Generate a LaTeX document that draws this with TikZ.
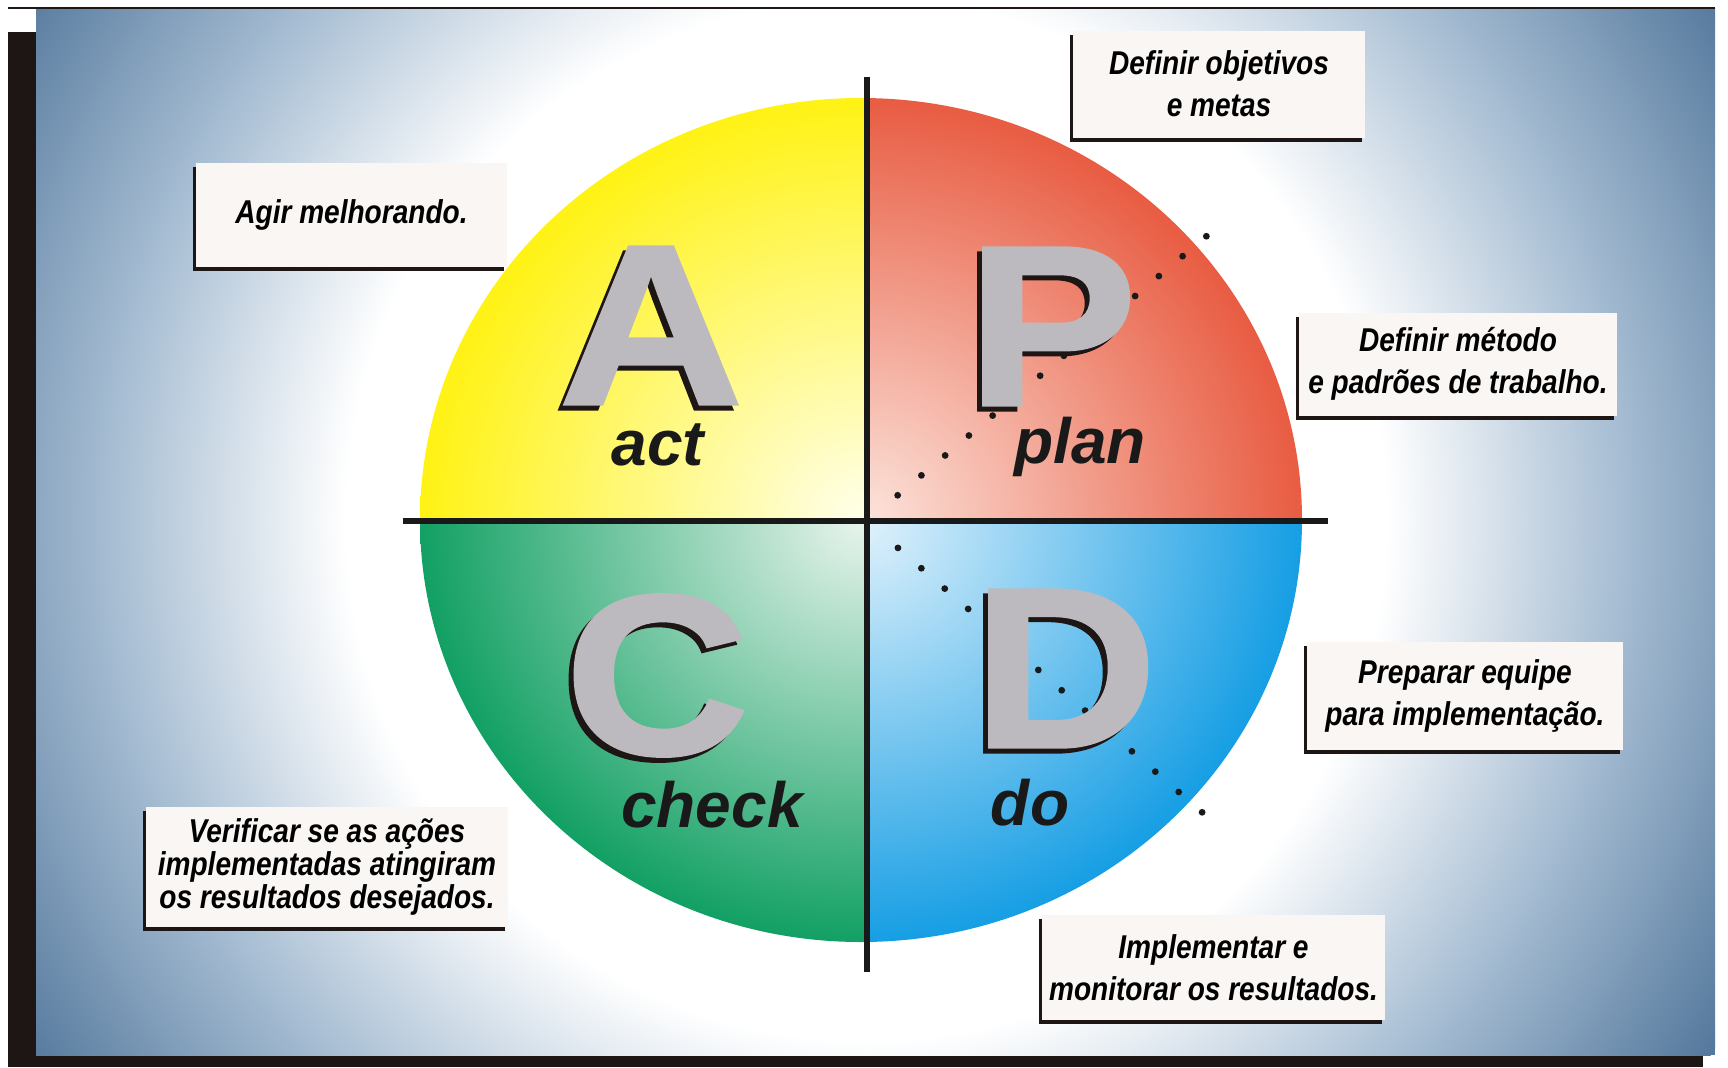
\documentclass[tikz,border=0pt]{standalone}
\usepackage{fontspec}
\setmainfont{Liberation Sans}
\newfontfamily\notefont[FakeStretch=0.85]{Liberation Sans}
\newfontfamily\letterfont[FakeStretch=1.12, FakeBold=1.5]{Liberation Sans}
\usetikzlibrary{shadows}
\definecolor{bgdark}{RGB}{84,120,156}
\definecolor{bgmid}{RGB}{165,188,210}
\definecolor{framedark}{RGB}{30,22,20}
\definecolor{notefill}{RGB}{249,246,243}
\definecolor{lettergray}{RGB}{188,186,190}
\definecolor{outact}{RGB}{255,242,20}
\definecolor{inact}{RGB}{255,255,235}
\definecolor{outplan}{RGB}{232,92,66}
\definecolor{inplan}{RGB}{252,228,220}
\definecolor{outcheck}{RGB}{18,160,100}
\definecolor{incheck}{RGB}{232,244,236}
\definecolor{outdo}{RGB}{22,158,228}
\definecolor{indo}{RGB}{225,242,252}
\pgfdeclareradialshading{glow}{\pgfpoint{0bp}{0bp}}{color(0bp)=(white); color(13bp)=(white); color(19bp)=(bgmid); color(25bp)=(bgdark); color(50bp)=(bgdark)}
\newcommand\shadowletter[1]{\makebox[0pt][l]{\kern-2.5pt\raisebox{-2.5pt}{\textcolor{framedark}{#1}}}#1}

\begin{document}
\begin{tikzpicture}[x=0.5pt, y=-0.5pt,
    note/.style={fill=notefill, inner sep=0pt, align=center,
      font=\notefont\bfseries\itshape\fontsize{16.5}{21}\selectfont,
      drop shadow={shadow xshift=-1.6pt, shadow yshift=-2.2pt, fill=framedark, opacity=1}},
    bigletter/.style={inner sep=0pt, text=lettergray,
      font=\letterfont\bfseries\fontsize{114}{114}\selectfont},
    word/.style={inner sep=0pt, anchor=base, text=black!90,
      font=\bfseries\itshape\fontsize{32}{32}\selectfont},
    pdcadot/.style={fill=black!90},
    axis/.style={line width=3pt, draw=black!90}]

  \useasboundingbox (0,0) rectangle (1728,1067);
  \fill[framedark] (8,32) rectangle (1703,1067);
  \begin{scope}
    \clip (36,8) rectangle (1715,1055);
    \fill[bgdark] (36,8) rectangle (1715,1055);
    \shade[shading=glow] (866,520) circle (500pt);
  \end{scope}
  \draw[line width=1pt, framedark] (8,7.5) -- (1715,7.5);

  \coordinate (c) at (867,521);
  \foreach \sx/\sy/\q in {-1/-1/act, 1/-1/plan, -1/1/check, 1/1/do}{
    \begin{scope}
      \clip (c) rectangle ++(460*\sx,460*\sy);
      \shade[inner color=in\q, outer color=out\q] (861,520) ellipse (220.5pt and 211pt);
    \end{scope}
  }

  \foreach \k in {0,...,13}{
    \fill[pdcadot] (c) ++(-40:40+31*\k) circle (1.7pt);
    \fill[pdcadot] (c) ++(41:41+31*\k) circle (1.7pt);
  }

  \foreach \l/\x/\y in {A/651/328, P/1052/329, C/657/678, D/1065/671}{
    \node[bigletter] (letter\l) at (\x,\y) {\shadowletter{\l}};
  }

  \node[word] (act) at (658,465) {act};
  \node[word] (plan) at (1080,463) {plan};
  \node[word] (check) at (712,827) {check};
  \node[word] (do) at (1030,825) {do};

  \draw[axis] (867,77) -- (867,972);
  \draw[axis] (403,521) -- (1328,521);

  \node[note, minimum width=155.5pt, minimum height=52pt] (agir) at (351.5,215) {Agir melhorando.};
  \node[note, minimum width=146pt, minimum height=53.5pt] (objetivos) at (1219,84) {Definir objetivos\\e metas};
  \node[note, minimum width=159pt, minimum height=51.5pt] (metodo) at (1458,364) {Definir método\\e padrões de trabalho.};
  \node[note, minimum width=158pt, minimum height=54pt] (equipe) at (1465,696) {Preparar equipe\\para implementação.};
  \node[note, minimum width=171.5pt, minimum height=52.5pt] (monitorar) at (1213.5,967.5) {Implementar e\\monitorar os resultados.};
  \node[note, minimum width=181pt, minimum height=60pt,
    font=\notefont\bfseries\itshape\fontsize{16.5}{16.5}\selectfont] (verificar) at (327,867)
    {Verificar se as ações\\implementadas atingiram\\os resultados desejados.};
\end{tikzpicture}
\end{document}
